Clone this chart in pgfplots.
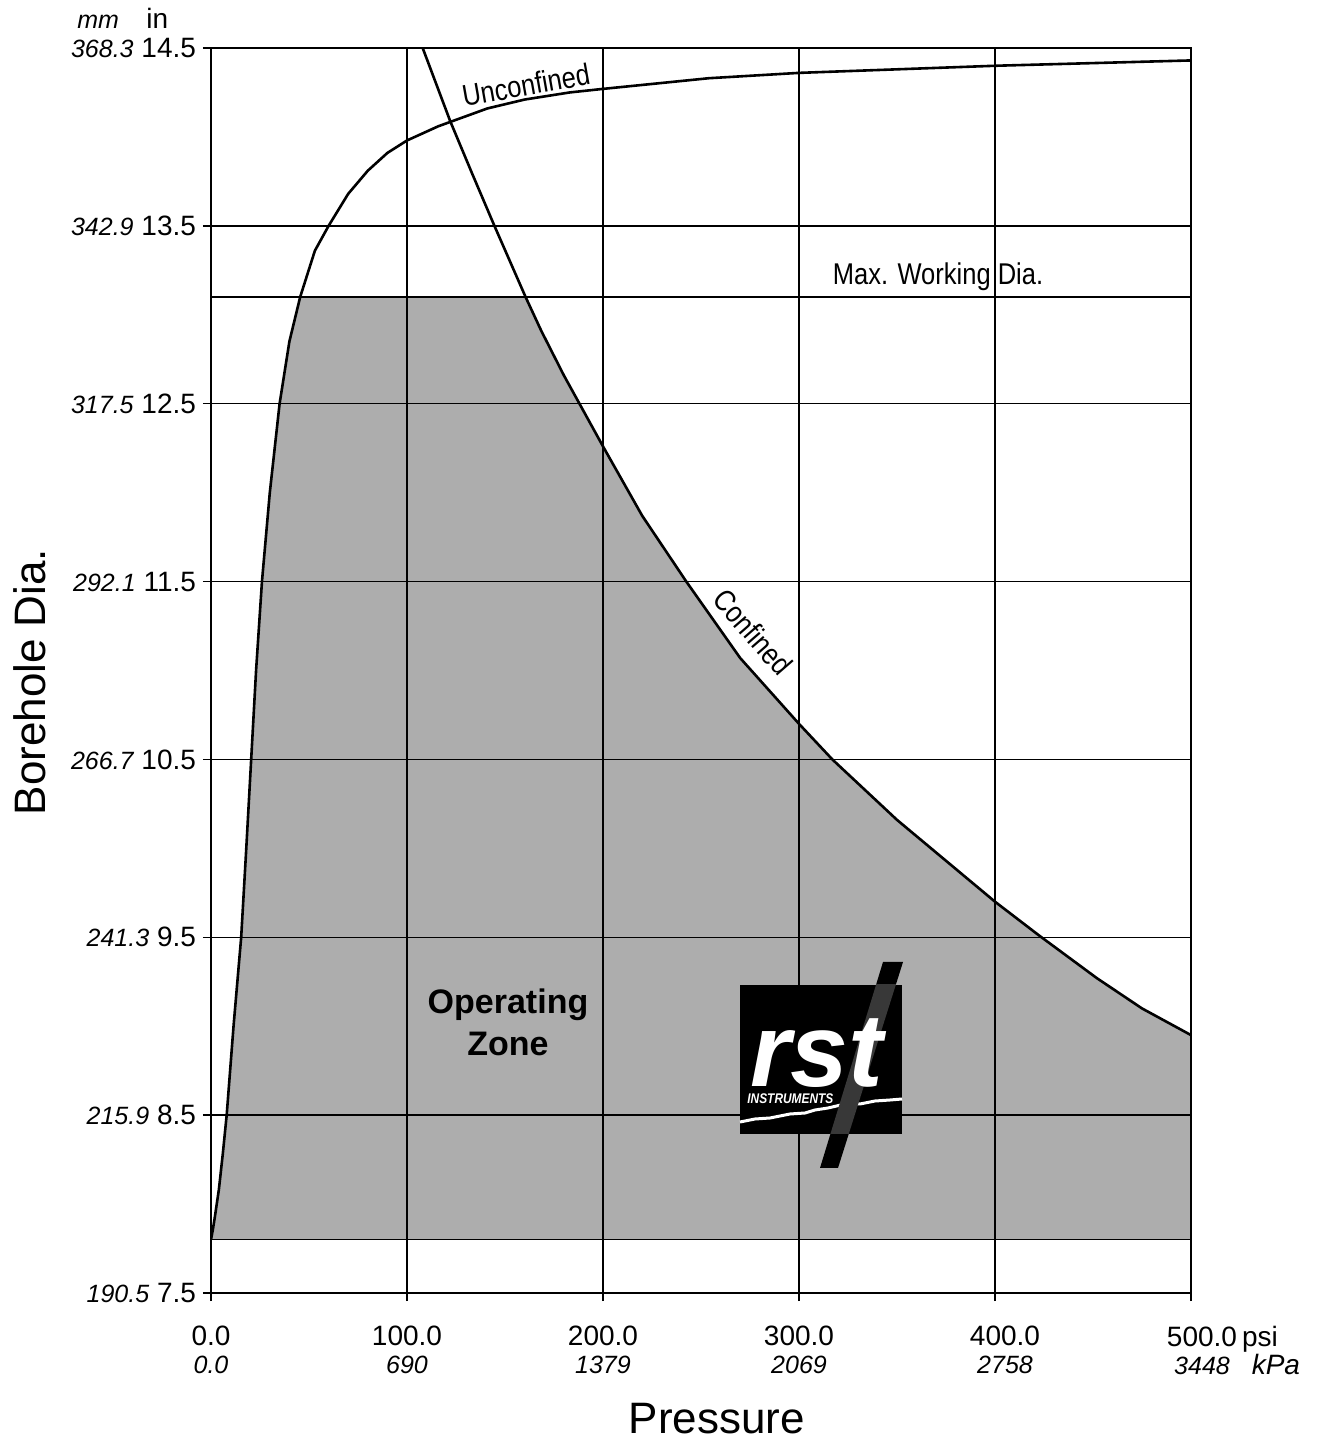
\documentclass[border=0pt]{standalone}
\usepackage{fontspec}
\setmainfont{Liberation Sans}
\newfontfamily\narrowfont[FakeStretch=0.85]{Liberation Sans}
\usepackage{graphicx}
\usepackage{pgfplots}
\pgfplotsset{compat=1.18}

% small italic metric values
\newcommand\mmv[1]{{\fontsize{12.5}{14}\selectfont\itshape #1}}

\begin{document}
\begin{tikzpicture}
\begin{axis}[
  at={(0,0)}, anchor=south west,
  scale only axis, width=490pt, height=622.5pt,
  xmin=0, xmax=500, ymin=7.5, ymax=14.5,
  xtick={0,100,200,300,400,500},
  ytick={7.5,8.5,9.5,10.5,11.5,12.5,13.5,14.5},
  xticklabels={
    {0.0\\\mmv{0.0}},
    {100.0\\\mmv{690}},
    {200.0\\\mmv{1379}},
    {300.0\\\mmv{2069}},
    {\hspace{10pt}400.0\\\hspace{10pt}\mmv{2758}},
    {\hspace{11pt}500.0\rlap{\hspace{2.5pt}psi}\\\hspace{11pt}\mmv{3448}\rlap{\hspace{11pt}\fontsize{14}{14}\selectfont\itshape kPa}}},
  yticklabels={
    {\mmv{190.5} 7.5},{\mmv{215.9} 8.5},{\mmv{241.3} 9.5},{\mmv{266.7} 10.5},
    {\mmv{292.1} 11.5},{\mmv{317.5} 12.5},{\mmv{342.9} 13.5},{\mmv{368.3} 14.5}},
  xticklabel style={align=center, font=\fontsize{14}{14}\selectfont, yshift=-9pt},
  yticklabel style={font=\fontsize{14}{16}\selectfont},
  grid=major, grid style={black, line width=0.7pt},
  axis line style={black, line width=0.7pt},
  tick style={black, line width=0.7pt},
  tick align=outside, tick pos=left, major tick length=4pt,
  extra y ticks={7.8,13.1}, extra y tick labels={},
  extra y tick style={major tick length=0pt, grid=major},
  axis on top,
]
% operating zone
\addplot[draw=none, fill=black!32] coordinates {
(0,7.8)(1,7.86)(2,7.93)(4,8.08)(6,8.28)(8,8.5)(11.5,9.0)(15.4,9.5)(18,10.0)
(20.5,10.5)(23,11.0)(26,11.5)(30,12.0)(35,12.5)(40,12.85)(45.5,13.1)
(160.5,13.1)(168.5,12.91)(180,12.66)(192,12.42)(200,12.26)(220,11.87)
(242.5,11.5)(270,11.07)(300,10.7)(317,10.5)(350,10.16)(400,9.7)
(422.5,9.51)(452,9.27)(475,9.1)(500,8.95)(500,7.8)
};
% unconfined
\addplot[black, line width=1.3pt, sharp plot] coordinates {
(0,7.8)(1,7.86)(2,7.93)(4,8.08)(6,8.28)(8,8.5)(11.5,9.0)(15.4,9.5)(18,10.0)
(20.5,10.5)(23,11.0)(26,11.5)(30,12.0)(35,12.5)(40,12.85)(45.5,13.1)
(53,13.36)(60,13.5)(70,13.68)(80,13.81)(90,13.91)(100,13.98)(116,14.06)
(141,14.16)(160,14.21)(183,14.25)(200,14.27)(254,14.33)(300,14.36)
(400,14.40)(500,14.43)
};
% confined
\addplot[black, line width=1.3pt, sharp plot] coordinates {
(108,14.5)(122,14.09)(133,13.8)(144.6,13.5)(160.5,13.1)(168.5,12.91)
(180,12.66)(192,12.42)(200,12.26)(220,11.87)(242.5,11.5)(270,11.07)
(300,10.7)(317,10.5)(350,10.16)(400,9.7)(422.5,9.51)(452,9.27)(475,9.1)(500,8.95)
};
\end{axis}

% labels and logo, placed in reference pixel units
\begin{scope}[x=0.5pt, y=-0.5pt, shift={(-105.5pt,646.5pt)}]
\node[rotate=10, font=\narrowfont\fontsize{15}{15}\selectfont] at (526,85) {Unconfined};
\node[rotate=-49, font=\narrowfont\fontsize{15}{15}\selectfont] at (753,632) {Confined};
\node[anchor=base, font=\narrowfont\fontsize{15}{15}\selectfont] at (938,285) {Max. Working Dia.};

\node[align=center, font=\fontsize{17}{21}\selectfont\bfseries] at (508,1022) {Operating\\Zone};

% logo
\fill[black] (883,962) -- (903,962) -- (838,1168) -- (820,1168) -- cycle;
\fill[black] (740,985) rectangle (902,1134);
\draw[white, line width=1.5pt] (740,1122) -- (755,1119) -- (770,1118) -- (790,1114)
  -- (805,1113) -- (815,1110) -- (828,1108) -- (845,1104) -- (860,1104)
  -- (875,1101) -- (890,1100) -- (902,1099);
\begin{scope}
\clip (740,985) rectangle (902,1134);
\fill[black!78] (883,962) -- (903,962) -- (838,1168) -- (820,1168) -- cycle;
\end{scope}
\node[anchor=base west, inner sep=0, text=white,
  font=\fontsize{52}{52}\selectfont\bfseries\itshape] at (750,1087) {rst};
\node[anchor=base west, inner sep=0, text=white,
  font=\fontsize{7}{7}\selectfont\bfseries\itshape] at (747,1104) {\scalebox{0.85}[1]{INSTRUMENTS}};

% axis titles
\node[anchor=base west, inner sep=0] at (77,29) {\mmv{mm}};
\node[anchor=base west, inner sep=0, font=\fontsize{14}{14}\selectfont] at (146,29) {in};
\node[rotate=90, font=\fontsize{22}{22}\selectfont] at (30,682) {Borehole Dia.};
\node[anchor=base, inner sep=0, font=\fontsize{22}{22}\selectfont] at (717,1433) {Pressure};

\pgfresetboundingbox
\path[use as bounding box] (0,0) rectangle (1322,1443);
\end{scope}
\end{tikzpicture}
\end{document}
